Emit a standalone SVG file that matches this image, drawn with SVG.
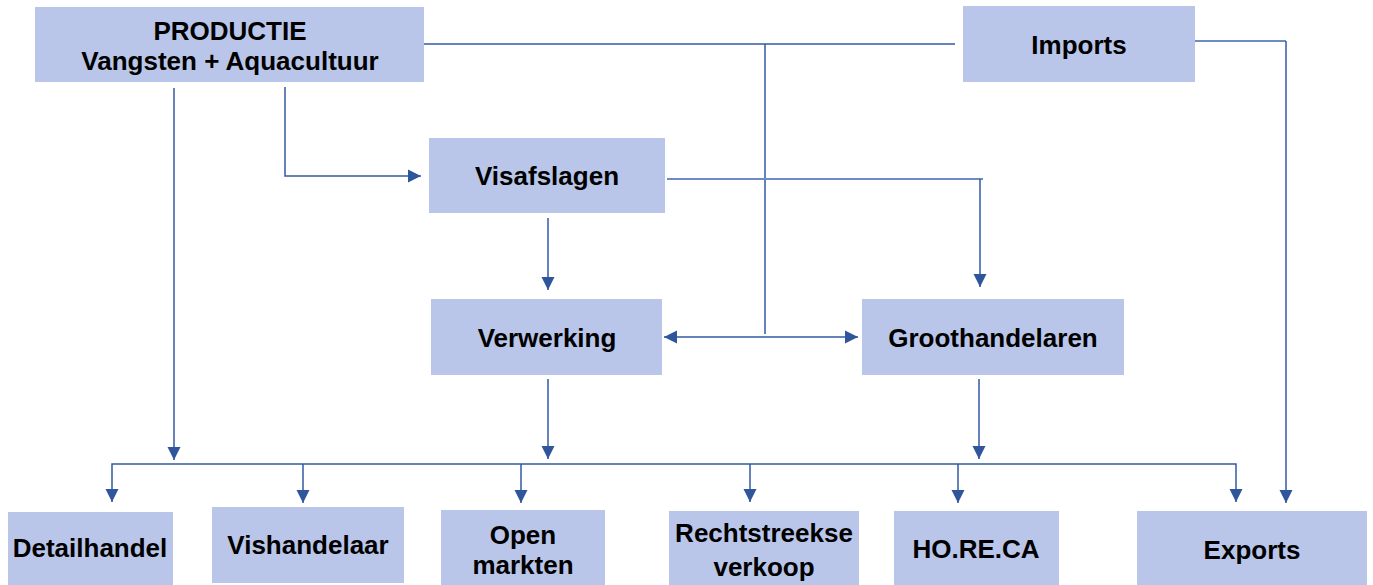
<svg xmlns="http://www.w3.org/2000/svg" width="1373" height="585" viewBox="0 0 1373 585">
<style>
.box{fill:#B9C6E9;}
.t{font-family:"Liberation Sans",Arial,sans-serif;font-weight:bold;font-size:26px;fill:#000;text-anchor:middle;}
.c{fill:none;stroke:#3359A3;stroke-width:1.5;}
.cl{fill:none;stroke:#6F8BC4;stroke-width:1.8;}
</style>
<defs>
<marker id="ah" markerUnits="userSpaceOnUse" markerWidth="14" markerHeight="14" viewBox="0 0 14 14" refX="13" refY="7" orient="auto-start-reverse">
<path d="M0,0.5 L13,7 L0,13.5 Z" fill="#2F559B"/>
</marker>
</defs>
<rect width="1373" height="585" fill="#fff"/>
<g id="connectors">
<path class="c" d="M424,44 H955"/>
<path class="c" d="M765,44 V334"/>
<path class="c" d="M664,337 H858" marker-start="url(#ah)" marker-end="url(#ah)"/>
<path class="c" d="M174,88 V460" marker-end="url(#ah)"/>
<path class="c" d="M285,87 V176 H421" marker-end="url(#ah)"/>
<path class="cl" d="M667,179 H983"/>
<path class="c" d="M980,179 V287" marker-end="url(#ah)"/>
<path class="c" d="M548,218 V290" marker-end="url(#ah)"/>
<path class="c" d="M548,379 V459" marker-end="url(#ah)"/>
<path class="c" d="M979,379 V459" marker-end="url(#ah)"/>
<path class="c" d="M112,502 V464 H1236 V502" marker-start="url(#ah)" marker-end="url(#ah)"/>
<path class="c" d="M303,464 V503" marker-end="url(#ah)"/>
<path class="c" d="M521,464 V503" marker-end="url(#ah)"/>
<path class="c" d="M750,464 V502" marker-end="url(#ah)"/>
<path class="c" d="M958,464 V503" marker-end="url(#ah)"/>
<path class="cl" d="M1195,41 H1286"/>
<path class="c" d="M1286,41 V503" marker-end="url(#ah)"/>
</g>
<g id="productie">
<rect class="box" x="35" y="7" width="389" height="75"/>
<text class="t" x="230" y="40">PRODUCTIE</text>
<text class="t" x="230" y="70">Vangsten + Aquacultuur</text>
</g>
<g id="imports">
<rect class="box" x="963" y="6" width="232" height="76"/>
<text class="t" x="1079" y="54">Imports</text>
</g>
<g id="visafslagen">
<rect class="box" x="429" y="138" width="236" height="75"/>
<text class="t" x="547" y="185">Visafslagen</text>
</g>
<g id="verwerking">
<rect class="box" x="431" y="299" width="231" height="76"/>
<text class="t" x="547" y="347">Verwerking</text>
</g>
<g id="groothandelaren">
<rect class="box" x="862" y="299" width="262" height="76"/>
<text class="t" x="993" y="347">Groothandelaren</text>
</g>
<g id="detailhandel">
<rect class="box" x="8" y="512" width="165" height="73"/>
<text class="t" x="90" y="557">Detailhandel</text>
</g>
<g id="vishandelaar">
<rect class="box" x="212" y="507" width="192" height="76"/>
<text class="t" x="308" y="554">Vishandelaar</text>
</g>
<g id="openmarkten">
<rect class="box" x="441" y="510" width="164" height="75"/>
<text class="t" x="523" y="544">Open</text>
<text class="t" x="523" y="574">markten</text>
</g>
<g id="rechtstreekse">
<rect class="box" x="669" y="511" width="190" height="74"/>
<text class="t" x="764" y="542">Rechtstreekse</text>
<text class="t" x="764" y="576">verkoop</text>
</g>
<g id="horeca">
<rect class="box" x="894" y="511" width="165" height="74"/>
<text class="t" x="976" y="558">HO.RE.CA</text>
</g>
<g id="exports">
<rect class="box" x="1137" y="511" width="230" height="74"/>
<text class="t" x="1252" y="559">Exports</text>
</g>
</svg>
